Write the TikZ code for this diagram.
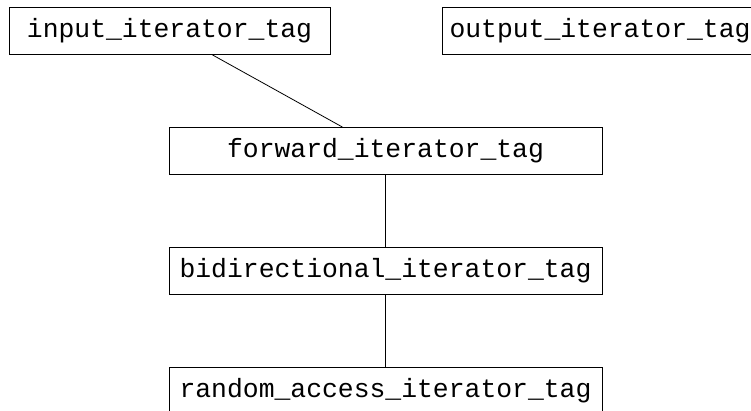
\documentclass[tikz,border=0pt]{standalone}
\usepackage{fontspec}
\setmonofont{Liberation Mono}
\usetikzlibrary{positioning}

\begin{document}
\begin{tikzpicture}[x=1pt, y=-1pt, node distance=120pt, auto,
    tag/.style={draw, line width=0.8pt, inner sep=0pt, minimum height=47pt,
      font=\ttfamily\fontsize{26.4}{30}\selectfont}]
        \useasboundingbox (0,0) rectangle (751,411);
        \clip (0,0) rectangle (751,411);

        \node[tag, minimum width=321pt] (in) at (169.5,31) {input\_iterator\_tag};
        \node[tag, minimum width=316pt] (out) at (600,31) {output\_iterator\_tag};

        \node[tag, minimum width=433pt] (fwd) at (385.5,151) {forward\_iterator\_tag};
        \node[tag, minimum width=433pt] (bid) [below of=fwd] {bidirectional\_iterator\_tag};
        \node[tag, minimum width=433pt] (ran) [below of=bid] {random\_access\_iterator\_tag};

        \draw[line width=0.8pt] (in) -- (fwd);
        \draw[line width=0.8pt] (fwd) -- (bid);
        \draw[line width=0.8pt] (bid) -- (ran);

    \end{tikzpicture}
\end{document}
